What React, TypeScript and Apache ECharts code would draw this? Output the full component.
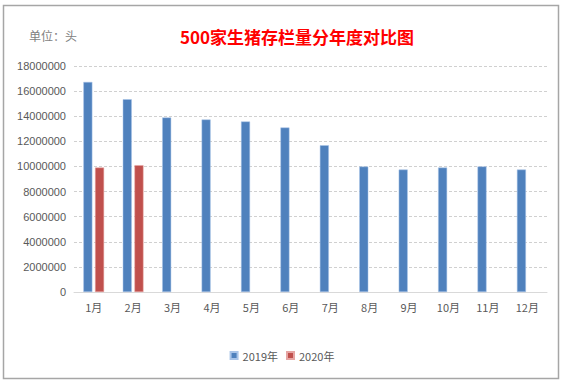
import React, { useEffect, useRef } from "react";
import * as echarts from "echarts";

const months = ["1月", "2月", "3月", "4月", "5月", "6月", "7月", "8月", "9月", "10月", "11月", "12月"];
const values2019 = [16730000, 15350000, 13900000, 13740000, 13580000, 13100000, 11690000, 9990000, 9750000, 9910000, 10000000, 9750000];
const values2020: (number | null)[] = [9910000, 10100000, null, null, null, null, null, null, null, null, null, null];
const seriesNames = ["2019年", "2020年"];
const titleText = "500家生猪存栏量分年度对比图";
const unitText = "单位：头";

export default function App() {
  const ref = useRef<HTMLDivElement>(null);
  useEffect(() => {
    if (!ref.current) return;
    const chart = echarts.init(ref.current, null, { renderer: "svg" });
    const font = "'Noto Sans CJK SC', 'Noto Sans', sans-serif";
    chart.setOption({
      animation: false,
      backgroundColor: "#ffffff",
      textStyle: { fontFamily: font },
      title: {
        text: titleText,
        left: 292,
        textAlign: "center",
        top: 23,
        textStyle: { color: "#ff0000", fontSize: 17, fontWeight: "bold", fontFamily: font },
      },
      graphic: [
        {
          type: "rect",
          shape: { x: 3.5, y: 5.5, width: 555, height: 373 },
          style: { fill: "none", stroke: "#a6a6a6", lineWidth: 1.5 },
          silent: true,
        },
        {
          type: "text",
          x: 29,
          y: 35,
          style: { text: unitText, fill: "#7f7f7f", fontSize: 12, fontFamily: font, textVerticalAlign: "middle" },
        },
      ],
      legend: {
        data: seriesNames,
        left: "center",
        top: 345,
        itemWidth: 7,
        itemHeight: 7,
        itemGap: 8,
        icon: "rect",
        textStyle: { color: "#595959", fontSize: 11, fontFamily: font },
      },
      grid: { left: 74, right: 17, top: 66, bottom: 95 },
      xAxis: {
        type: "category",
        data: months,
        axisLine: { lineStyle: { color: "#d9d9d9", width: 1 } },
        axisTick: { show: false },
        axisLabel: { color: "#595959", fontSize: 11, margin: 9 },
      },
      yAxis: {
        type: "value",
        min: 0,
        max: 18000000,
        interval: 2000000,
        axisLine: { show: false },
        axisTick: { show: false },
        axisLabel: {
          color: "#595959",
          fontSize: 11,
          margin: 8,
          fontFamily: "'Liberation Sans', sans-serif",
          formatter: (v: number) => String(v),
        },
        splitLine: { lineStyle: { color: "#d0d0d0", type: [3, 2], width: 1 } },
      },
      series: [
        {
          name: seriesNames[0],
          type: "bar",
          data: values2019,
          barWidth: 9,
          barGap: "30%",
          itemStyle: { color: "#4f81bd", borderColor: "#a9c4e8", borderWidth: 0.5 },
        },
        {
          name: seriesNames[1],
          type: "bar",
          data: values2020,
          barWidth: 9,
          barGap: "30%",
          itemStyle: { color: "#c0504d", borderColor: "#e6a5a3", borderWidth: 0.5 },
        },
      ],
    });
    return () => chart.dispose();
  }, []);
  return (
    <div style={{ position: "fixed", left: 0, top: 0, width: 564, height: 387, background: "#fff" }}>
      <div ref={ref} style={{ width: 564, height: 387 }} />
    </div>
  );
}
